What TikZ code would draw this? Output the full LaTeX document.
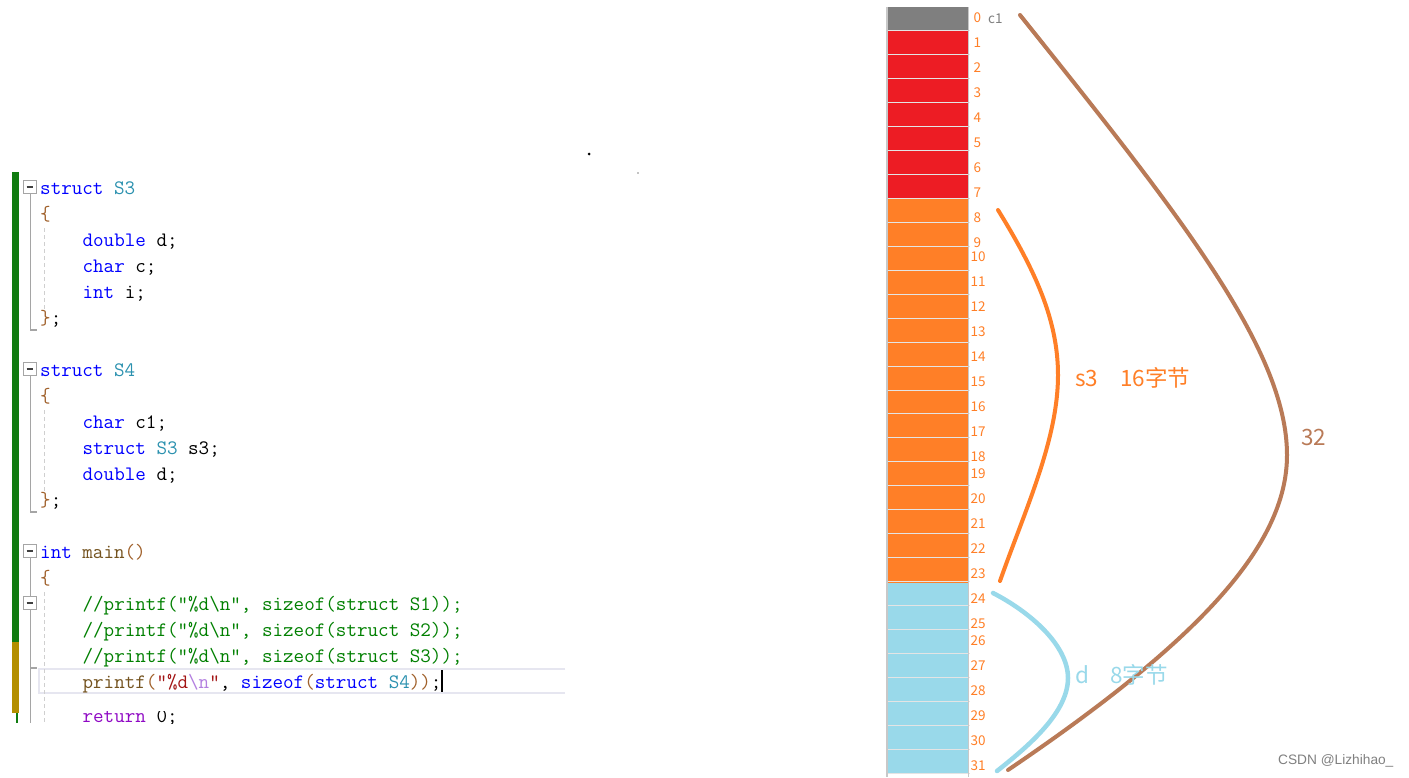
\documentclass[tikz,border=0pt]{standalone}
\usepackage{fontspec}
\newfontfamily\cjk{Noto Sans CJK SC}
\newfontfamily\wmfont{Liberation Sans}
\definecolor{ckwc}{HTML}{0000FF}
\definecolor{ctyc}{HTML}{2B91AF}
\definecolor{cfnc}{HTML}{74531F}
\definecolor{ccmc}{HTML}{008000}
\definecolor{cstc}{HTML}{A31515}
\definecolor{cesc}{HTML}{B37FE0}
\definecolor{cbrc}{HTML}{A0602A}
\definecolor{cretc}{HTML}{8F08C4}
\definecolor{gbar}{HTML}{107C10}
\definecolor{obar}{HTML}{B38F00}
\definecolor{gutter}{HTML}{A5A5A5}
\definecolor{guide}{HTML}{CFCFCF}
\definecolor{hlc}{HTML}{E6E6F0}
\definecolor{mgray}{HTML}{7F7F7F}
\definecolor{mred}{HTML}{ED1C24}
\definecolor{morange}{HTML}{FF7F27}
\definecolor{mblue}{HTML}{99D9EA}
\definecolor{mbrown}{HTML}{B97A57}
\definecolor{sepc}{HTML}{E4E4E4}
\definecolor{borderc}{HTML}{C8C8C8}
\newcommand\ckw[1]{\textcolor{ckwc}{#1}}
\newcommand\cty[1]{\textcolor{ctyc}{#1}}
\newcommand\cfn[1]{\textcolor{cfnc}{#1}}
\newcommand\ccm[1]{\textcolor{ccmc}{#1}}
\newcommand\cst[1]{\textcolor{cstc}{#1}}
\newcommand\ces[1]{\textcolor{cesc}{#1}}
\newcommand\cbr[1]{\textcolor{cbrc}{#1}}
\begin{document}
\begin{tikzpicture}[x=1pt,y=-1pt,
  code/.style={anchor=base west, inner sep=0pt, font=\ttfamily\fontsize{20.5}{24}\selectfont},
  numlbl/.style={anchor=west, inner sep=0pt, text=morange, font=\cjk\fontsize{13.5}{14}\selectfont},
  biglbl/.style={anchor=west, inner sep=0pt, font=\cjk\fontsize{22.5}{24}\selectfont},
  curve/.style={line width=4pt, line cap=round},
  foldbox/.style={draw=gutter, fill=white, line width=1pt},
  gline/.style={draw=gutter, line width=1.5pt},
  dguide/.style={draw=guide, line width=1.3pt, dash pattern=on 4pt off 3pt}]
\useasboundingbox (0,0) rectangle (1409,777);
\fill[white] (0,0) rectangle (1409,777);

% ---------- code editor ----------
\fill[gbar] (12,172) rectangle (19,642);
\fill[obar] (12,642) rectangle (19,713);
\fill[gbar] (16,713) rectangle (17.6,723);

% current line highlight
\draw[hlc, line width=2.5pt] (565,669) -- (39,669) -- (39,693) -- (565,693);

% gutter lines
\draw[gline] (30.5,194) -- (30.5,330) -- (37,330);
\draw[gline] (30.5,376) -- (30.5,512) -- (37,512);
\draw[gline] (30.5,558) -- (30.5,596);
\draw[gline] (30.5,610) -- (30.5,723);
\draw[gline] (30.5,668) -- (37,668);
\draw[dguide] (44.5,228) -- (44.5,310);
\draw[dguide] (44.5,410) -- (44.5,492);
\draw[dguide] (44.5,592) -- (44.5,723);
% fold boxes
\foreach \yc in {187,369,551,603}{
  \draw[foldbox] (23.5,\yc-6.5) rectangle (36,\yc+6.5);
  \draw[line width=1.2pt, black!75] (26.5,\yc) -- (33,\yc);
}

% code lines
\node[code] (l1) at (40,194) {\ckw{struct} \cty{S3}};
\node[code] (l2) at (40,220) {\cbr{\{}};
\node[code] (l3) at (82.4,246) {\ckw{double} d;};
\node[code] (l4) at (82.4,272) {\ckw{char} c;};
\node[code] (l5) at (82.4,298) {\ckw{int} i;};
\node[code] (l6) at (40,324) {\cbr{\}};};
\node[code] (l7) at (40,376) {\ckw{struct} \cty{S4}};
\node[code] (l8) at (40,402) {\cbr{\{}};
\node[code] (l9) at (82.4,428) {\ckw{char} c1;};
\node[code] (l10) at (82.4,454) {\ckw{struct} \cty{S3} s3;};
\node[code] (l11) at (82.4,480) {\ckw{double} d;};
\node[code] (l12) at (40,506) {\cbr{\}};};
\node[code] (l13) at (40,558) {\ckw{int} \cfn{main}\cbr{()}};
\node[code] (l14) at (40,584) {\cbr{\{}};
\node[code] (l15) at (82.4,610) {\ccm{//printf("\%d\textbackslash n", sizeof(struct S1));}};
\node[code] (l16) at (82.4,636) {\ccm{//printf("\%d\textbackslash n", sizeof(struct S2));}};
\node[code] (l17) at (82.4,662) {\ccm{//printf("\%d\textbackslash n", sizeof(struct S3));}};
\node[code] (l18) at (82.4,688) {\cfn{printf}\cbr{(}\cst{"\%d}\ces{\textbackslash n}\cst{"}, \ckw{sizeof}\cbr{(}\ckw{struct} \cty{S4}\cbr{))};};
\begin{scope}
  \clip (40,711.5) rectangle (600,723);
  \node[code] (l19) at (82.4,722.5) {\textcolor{cretc}{return} 0;};
\end{scope}
\draw[line width=1.6pt] (442,670) -- (442,692);

% stray dots
\fill (589,154) circle (1.5);
\fill (638,173) circle (0.6);

% ---------- memory column ----------
\fill[mgray] (887,7) rectangle (968.5,30.94);
\fill[mred] (887,30.94) rectangle (968.5,198.58);
\fill[morange] (887,198.58) rectangle (968.5,582.56);
\fill[mblue] (887,582.56) rectangle (968.5,773);
\foreach \i in {1,...,31}{
  \draw[sepc, line width=1pt] (887,7+\i*23.94) -- (970,7+\i*23.94);
}
\draw[sepc, line width=1pt] (887,773) -- (970,773);
\draw[borderc, line width=1.2pt] (887,7) -- (887,777);
\draw[borderc, line width=1.2pt] (968.5,7) -- (968.5,777);

% offsets
\foreach \n/\yy in {0/18,1/43,2/68,3/93,4/118,5/143,6/168,7/193,8/218,9/243}{
  \node[numlbl] (n\n) at (973.5,\yy) {\n};
}
\foreach \n/\yy in {10/257,11/282,12/307,13/332,14/357,15/382,16/407,17/432,18/457,19/474,20/499,21/524,22/549,23/574,24/599,25/624,26/641,27/666,28/691,29/716,30/741,31/766}{
  \node[numlbl] (n\n) at (970.5,\yy) {\n};
}
\node[numlbl, text=mgray] (c1) at (988,19) {c1};

% ---------- braces (curves) ----------
\coordinate (b0) at (1020,15);
\coordinate (b1) at (1287,455);
\coordinate (b2) at (1008,770);
\draw[curve, mbrown] (b0) .. controls (1180,215) and (1287,350) .. (b1) .. controls (1287,545) and (1200,640) .. (b2);
\coordinate (o0) at (998,210);
\coordinate (o1) at (1058,375);
\coordinate (o2) at (1000,581);
\draw[curve, morange] (o0) .. controls (1035,270) and (1058,320) .. (o1) .. controls (1058,440) and (1025,510) .. (o2);
\coordinate (d0) at (993,593);
\coordinate (d1) at (1068,678);
\coordinate (d2) at (997,771);
\draw[curve, mblue, line width=4.5pt] (d0) .. controls (1030,612) and (1068,645) .. (d1) .. controls (1068,712) and (1030,745) .. (d2);

% labels
\node[biglbl, text=morange] (s3lbl) at (1075,378) {s3\hspace{22pt}16字节};
\node[biglbl, text=mbrown] (tot) at (1301,437) {32};
\node[biglbl, text=mblue] (dlbl) at (1075,675) {d\hspace{21pt}8字节};

% watermark
\node[anchor=west, inner sep=0pt, text=black!50, font=\wmfont\fontsize{13.7}{14}\selectfont] (wm) at (1278,761) {CSDN @Lizhihao\_};
\end{tikzpicture}
\end{document}
